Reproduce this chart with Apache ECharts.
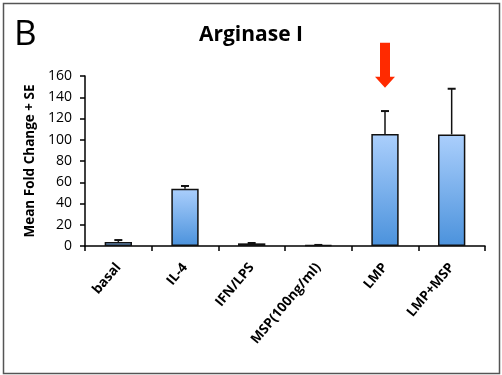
<!DOCTYPE html>
<html><head><meta charset="utf-8">
<script src="https://cdn.jsdelivr.net/npm/echarts@6/dist/echarts.min.js"></script>
<style>html,body{margin:0;padding:0;background:#fff}#c{width:502px;height:375px}</style>
</head><body><div id="c"></div>
<script>
const categories = ['basal', 'IL-4', 'IFN/LPS', 'MSP(100ng/ml)', 'LMP', 'LMP+MSP'];
const meanValues = [3.8, 54, 2.5, 0.8, 105.5, 105];
const seValues = [1.8, 2.5, 0.3, 0.2, 21.5, 43];
const yTicks = [0, 20, 40, 60, 80, 100, 120, 140, 160];
const highlightCategory = 'LMP';
const arrowTipValue = 149;

const chart = echarts.init(document.getElementById('c'), null, {renderer: 'canvas'});
const font = '"Open Sans", "DejaVu Sans", sans-serif';

chart.setOption({
  animation: false,
  backgroundColor: '#fff',
  title: {
    text: 'Arginase I', left: 'center', top: 20,
    textStyle: {fontFamily: font, fontWeight: 'bold', fontSize: 21, color: '#000'}
  },
  graphic: [
    {type: 'rect', shape: {x: 3.5, y: 3.5, width: 496, height: 370}, style: {fill: null, stroke: '#555', lineWidth: 1.5}, z: 100},
    {type: 'text', left: 14, top: 18, style: {text: 'B', fontFamily: font, fontSize: 35, fill: '#000'}}
  ],
  grid: {left: 85, right: 17, top: 76, bottom: 129},
  xAxis: {
    type: 'category', data: categories,
    axisLine: {lineStyle: {color: '#000', width: 1.5}},
    axisTick: {show: true, length: 5, lineStyle: {color: '#000', width: 1.5}},
    axisLabel: {rotate: 50, margin: 19, fontFamily: font, fontWeight: 'bold', fontSize: 13.5, color: '#000'}
  },
  yAxis: {
    type: 'value', min: 0, max: 160, interval: 20,
    name: 'Mean Fold Change + SE', nameLocation: 'middle', nameGap: 46,
    nameTextStyle: {fontFamily: font, fontWeight: 'bold', fontSize: 13.5, color: '#000'},
    axisLine: {show: true, lineStyle: {color: '#000', width: 1.5}},
    axisTick: {show: true, length: 5, lineStyle: {color: '#000', width: 1.5}},
    splitLine: {show: false},
    axisLabel: {fontFamily: font, fontSize: 14, color: '#000', margin: 13,
      formatter: v => yTicks.includes(v) ? String(v) : ''}
  },
  series: [
    {
      type: 'bar', data: meanValues, barWidth: '41%',
      itemStyle: {
        color: new echarts.graphic.LinearGradient(0, 0, 0, 1, [
          {offset: 0, color: '#abcffc'}, {offset: 1, color: '#4b92dc'}
        ]),
        borderColor: '#111', borderWidth: 1.5
      },
      z: 2
    },
    {
      type: 'custom', z: 3,
      data: meanValues.map((v, i) => [i, v, v + seValues[i]]),
      renderItem: function (params, api) {
        const base = api.coord([api.value(0), api.value(1)]);
        const top = api.coord([api.value(0), api.value(2)]);
        const hw = 4;
        return {
          type: 'group',
          children: [
            {type: 'line', shape: {x1: base[0], y1: base[1], x2: top[0], y2: top[1]}, style: {stroke: '#111', lineWidth: 1.5}},
            {type: 'line', shape: {x1: top[0] - hw, y1: top[1], x2: top[0] + hw, y2: top[1]}, style: {stroke: '#111', lineWidth: 2}}
          ]
        };
      }
    },
    {
      type: 'custom', z: 4, clip: false,
      data: [[categories.indexOf(highlightCategory), arrowTipValue]],
      renderItem: function (params, api) {
        const p = api.coord([api.value(0), api.value(1)]);
        const x = p[0], y = p[1];
        return {
          type: 'polygon',
          shape: {points: [[x, y], [x - 10, y - 11], [x - 5, y - 11], [x - 5, y - 45], [x + 5, y - 45], [x + 5, y - 11], [x + 10, y - 11]]},
          style: {fill: '#ff2a00'}
        };
      }
    }
  ]
});
</script></body></html>
